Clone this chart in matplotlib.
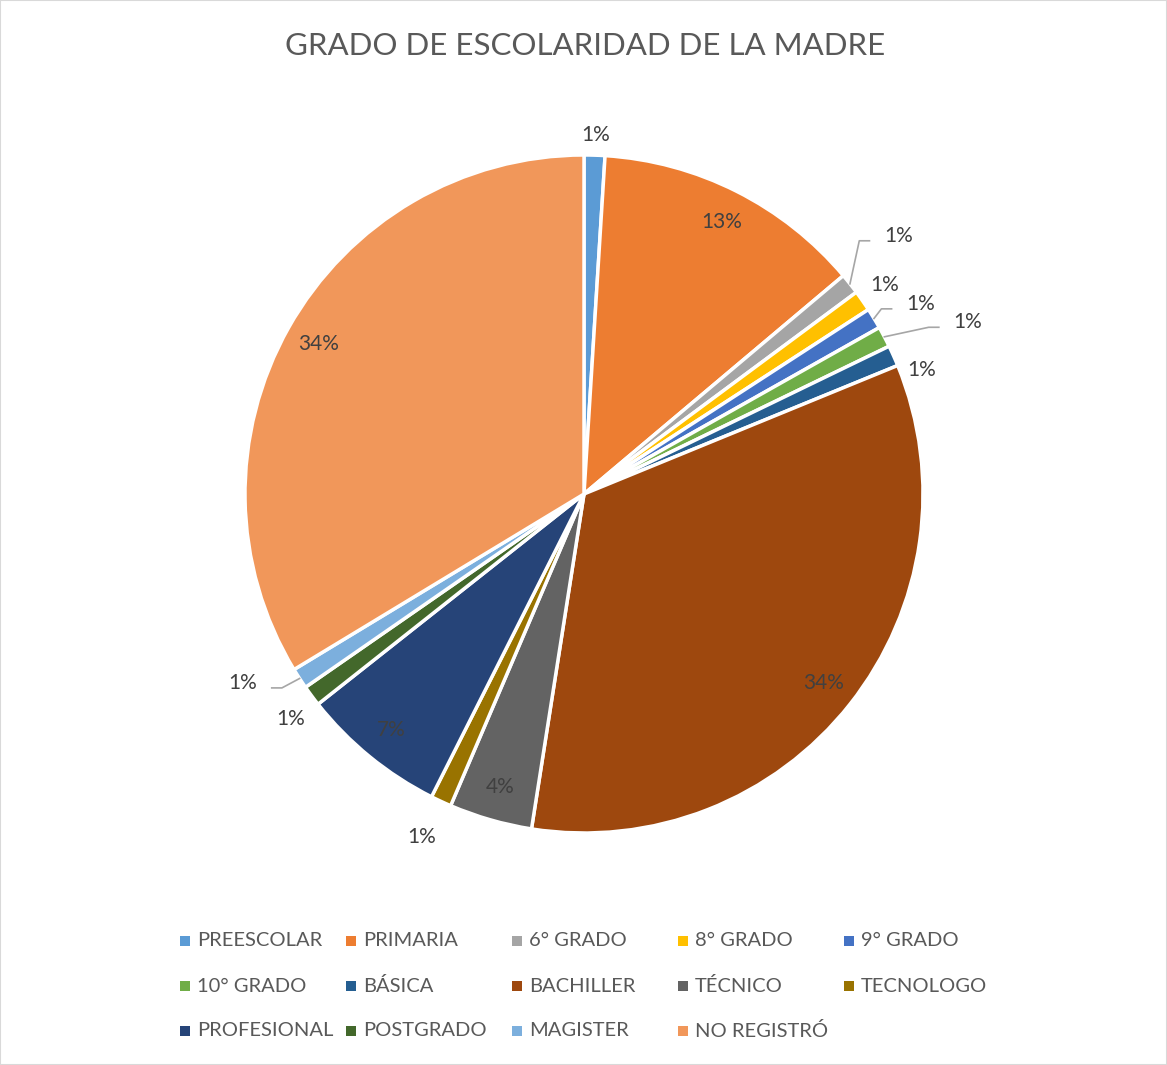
import matplotlib.pyplot as plt
import numpy as np
from matplotlib.patches import Rectangle

plt.rcParams['font.family'] = ['Lato', 'DejaVu Sans']

categorias = ['PREESCOLAR', 'PRIMARIA', '6° GRADO', '8° GRADO', '9° GRADO',
              '10° GRADO', 'BÁSICA', 'BACHILLER', 'TÉCNICO', 'TECNOLOGO',
              'PROFESIONAL', 'POSTGRADO', 'MAGISTER', 'NO REGISTRÓ']
valores = [1, 13, 1, 1, 1, 1, 1, 34, 4, 1, 7, 1, 1, 34]
colores = ['#5B9BD5', '#ED7D31', '#A5A5A5', '#FFC000', '#4472C4', '#70AD47',
           '#255E91', '#9E480E', '#636363', '#997300', '#264478', '#43682B',
           '#7CAFDD', '#F1975A']

W, H = 1167, 1065
fig = plt.figure(figsize=(W / 100, H / 100), dpi=100)

# pie centre / radius in pixels
cx, cy, rad = 584, 494, 339
lim = 1.2
size = rad * lim * 2
ax = fig.add_axes([(cx - size / 2) / W, (H - cy - size / 2) / H, size / W, size / H])

ax.pie(valores, colors=colores, startangle=90, counterclock=False, radius=1.0,
       wedgeprops=dict(edgecolor='white', linewidth=2.5))
ax.set_xlim(-lim, lim)
ax.set_ylim(-lim, lim)
ax.set_aspect('equal')
ax.axis('off')

total = sum(valores)
fracs = np.array(valores) / total
fin = np.cumsum(fracs) * 360
ini = fin - fracs * 360
medio = (ini + fin) / 2

# outside labels: index -> (radius, angle shift)
fuera = {0: (1.06, 0), 2: (1.2, -1.1), 3: (1.08, 0), 4: (1.14, 1.7),
         5: (1.24, 3.5), 6: (1.06, 3.9), 9: (1.12, 0.4), 11: (1.09, -1),
         12: (1.15, 4)}
con_linea = [2, 4, 5, 12]

for i, v in enumerate(valores):
    txt = f'{round(100 * v / total)}%'
    if i in fuera:
        r, d = fuera[i]
        th = np.radians(medio[i] + d)
    else:
        r, th = 0.9, np.radians(medio[i])
    x, y = r * np.sin(th), r * np.cos(th)
    ax.text(x, y, txt, ha='center', va='center', fontsize=15, color='#404040')
    if i in con_linea:
        t0 = np.radians(medio[i])
        x0, y0 = 1.0 * np.sin(t0), 1.0 * np.cos(t0)
        s = 1 if x > 0 else -1
        xe = x - s * 0.085
        ye = y - 0.015
        xm = xe - s * 0.03
        ax.plot([x0, xm, xe], [y0, ye, ye], color='#A6A6A6', lw=1.2,
                clip_on=False)

fig.text(585 / W, 1 - 46 / H, 'GRADO DE ESCOLARIDAD DE LA MADRE',
         ha='center', va='center', fontsize=22.5, color='#595959')

# legend, 5 columns
for i, nombre in enumerate(categorias):
    col, fila = i % 5, i // 5
    px = 185 + 166 * col
    py = 941 + 45 * fila
    fig.patches.append(Rectangle(((px - 5) / W, 1 - (py + 5) / H), 10 / W, 10 / H,
                                 transform=fig.transFigure, facecolor=colores[i],
                                 edgecolor='none'))
    fig.text((px + 12) / W, 1 - py / H, nombre, ha='left', va='center',
             fontsize=14.5, color='#595959')

fig.patches.append(Rectangle((0, 0), 1, 1, transform=fig.transFigure, fill=False,
                             edgecolor='#D9D9D9', lw=1.5))

fig.savefig('out.png', dpi=100, facecolor='white')
